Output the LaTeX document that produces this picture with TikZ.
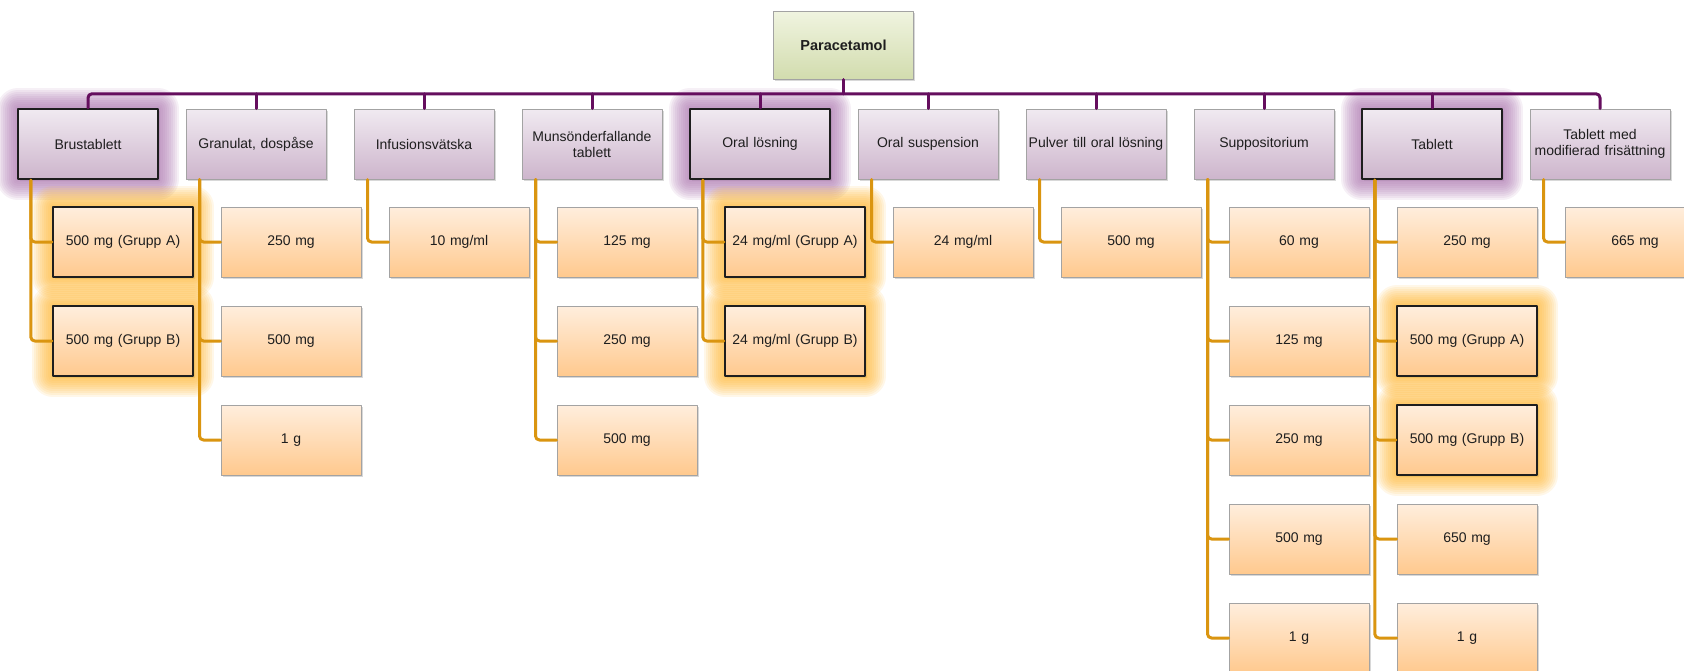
\documentclass[tikz,border=0pt]{standalone}
\usepackage{fontspec}
\setmainfont{Liberation Sans}
\usetikzlibrary{shadows,positioning}
\definecolor{ptPurple}{HTML}{650E5E}
\definecolor{ptOrange}{HTML}{DA9510}
\definecolor{ptLilacTop}{HTML}{F0EAF1}
\definecolor{ptLilacBot}{HTML}{CDB5CC}
\definecolor{ptPeachTop}{HTML}{FFEEDD}
\definecolor{ptPeachBot}{HTML}{FFC98E}
\definecolor{ptLimeTop}{HTML}{F0F4E0}
\definecolor{ptLimeBot}{HTML}{D2DCAE}
\definecolor{ptEdge}{HTML}{A3A3A3}
\definecolor{ptInk}{HTML}{1E1E1E}
\definecolor{ptGlowPurple}{HTML}{AE78B1}
\definecolor{ptGlowOrange}{HTML}{FFB830}

\begin{document}
\begin{tikzpicture}[x=1pt,y=-1pt,line cap=round,line join=round]
\path[fill=white,use as bounding box] (0,0) rectangle (1684,670);
\tikzset{card/.style={draw=ptEdge,line width=1pt,minimum height=70pt,text width=136pt,inner sep=2pt,align=center,text=ptInk,font=\fontsize{14}{16}\selectfont,drop shadow={shadow xshift=1.5pt,shadow yshift=-2pt,opacity=0.3}},
  rootbox/.style={card,top color=ptLimeTop,bottom color=ptLimeBot,minimum height=68pt,font=\fontsize{14.5}{17}\selectfont\bfseries},
  formbox/.style={card,top color=ptLilacTop,bottom color=ptLilacBot},
  kid/.style={card,top color=ptPeachTop,bottom color=ptPeachBot},
  halo/.style 2 args={preaction={draw=#1,line width=#2,opacity=0.11}},
  glow/.style={halo={#1}{42pt},halo={#1}{38pt},halo={#1}{34pt},halo={#1}{30pt},halo={#1}{26pt},
    halo={#1}{22pt},halo={#1}{18pt},halo={#1}{14pt},halo={#1}{10pt},halo={#1}{6pt},draw=ptInk,line width=2.4pt},
  glowP/.style={glow=ptGlowPurple},
  glowO/.style={glow=ptGlowOrange},
  hubline/.style={draw=ptPurple,line width=3pt,rounded corners=4pt},
  kidline/.style={draw=ptOrange,line width=3pt,rounded corners=4pt}}
% root
\node[rootbox] (root) at (843.5,45) {Paracetamol};
% dosage forms
\node[formbox,glowP] (brus) at (88,144) {Brustablett};
\node[formbox] (gran) at (256,144) {Granulat, dospåse};
\node[formbox] (infu) at (424,144) {Infusionsvätska};
\node[formbox] (muns) at (592,144) {Munsönderfallande\\tablett};
\node[formbox,glowP] (oral) at (760,144) {Oral lösning};
\node[formbox] (susp) at (928,144) {Oral suspension};
\node[formbox] (pulv) at (1096,144) {Pulver till oral lösning};
\node[formbox] (supp) at (1264,144) {Suppositorium};
\node[formbox,glowP] (tabl) at (1432,144) {Tablett};
\node[formbox] (tabm) at (1600,144) {Tablett med\\modifierad frisättning};
% strengths
\node[kid,glowO] (brusA) at (123,242) {500 mg (Grupp A)};
\node[kid,glowO] (brusB) at (123,341) {500 mg (Grupp B)};
\node[kid] (gran1) at (291,242) {250 mg};
\node[kid] (gran2) at (291,341) {500 mg};
\node[kid] (gran3) at (291,440) {1 g};
\node[kid] (infu1) at (459,242) {10 mg/ml};
\node[kid] (muns1) at (627,242) {125 mg};
\node[kid] (muns2) at (627,341) {250 mg};
\node[kid] (muns3) at (627,440) {500 mg};
\node[kid,glowO] (oralA) at (795,242) {24 mg/ml (Grupp A)};
\node[kid,glowO] (oralB) at (795,341) {24 mg/ml (Grupp B)};
\node[kid] (susp1) at (963,242) {24 mg/ml};
\node[kid] (pulv1) at (1131,242) {500 mg};
\node[kid] (supp1) at (1299,242) {60 mg};
\node[kid] (supp2) at (1299,341) {125 mg};
\node[kid] (supp3) at (1299,440) {250 mg};
\node[kid] (supp4) at (1299,539) {500 mg};
\node[kid] (supp5) at (1299,638) {1 g};
\node[kid] (tabl1) at (1467,242) {250 mg};
\node[kid,glowO] (tablA) at (1467,341) {500 mg (Grupp A)};
\node[kid,glowO] (tablB) at (1467,440) {500 mg (Grupp B)};
\node[kid] (tabl4) at (1467,539) {650 mg};
\node[kid] (tabl5) at (1467,638) {1 g};
\node[kid] (tabm1) at (1635,242) {665 mg};
% purple hub
\coordinate (bar) at ([yshift=14pt]brus.north);
\draw[hubline] (brus.north) -- (bar) -| (tabm.north);
\draw[hubline] (root.south) -- (root.south |- bar);
\draw[hubline] (gran.north) -- (gran.north |- bar); \draw[hubline] (infu.north) -- (infu.north |- bar);
\draw[hubline] (muns.north) -- (muns.north |- bar); \draw[hubline] (oral.north) -- (oral.north |- bar);
\draw[hubline] (susp.north) -- (susp.north |- bar); \draw[hubline] (pulv.north) -- (pulv.north |- bar);
\draw[hubline] (supp.north) -- (supp.north |- bar); \draw[hubline] (tabl.north) -- (tabl.north |- bar);
% orange branches
\draw[kidline] ([xshift=14pt]brus.south west) |- (brusA.west); \draw[kidline] ([xshift=14pt]brus.south west) |- (brusB.west);
\draw[kidline] ([xshift=14pt]gran.south west) |- (gran1.west); \draw[kidline] ([xshift=14pt]gran.south west) |- (gran2.west); \draw[kidline] ([xshift=14pt]gran.south west) |- (gran3.west);
\draw[kidline] ([xshift=14pt]infu.south west) |- (infu1.west);
\draw[kidline] ([xshift=14pt]muns.south west) |- (muns1.west); \draw[kidline] ([xshift=14pt]muns.south west) |- (muns2.west); \draw[kidline] ([xshift=14pt]muns.south west) |- (muns3.west);
\draw[kidline] ([xshift=14pt]oral.south west) |- (oralA.west); \draw[kidline] ([xshift=14pt]oral.south west) |- (oralB.west);
\draw[kidline] ([xshift=14pt]susp.south west) |- (susp1.west);
\draw[kidline] ([xshift=14pt]pulv.south west) |- (pulv1.west);
\draw[kidline] ([xshift=14pt]supp.south west) |- (supp1.west); \draw[kidline] ([xshift=14pt]supp.south west) |- (supp2.west); \draw[kidline] ([xshift=14pt]supp.south west) |- (supp3.west);
\draw[kidline] ([xshift=14pt]supp.south west) |- (supp4.west); \draw[kidline] ([xshift=14pt]supp.south west) |- (supp5.west);
\draw[kidline] ([xshift=14pt]tabl.south west) |- (tabl1.west); \draw[kidline] ([xshift=14pt]tabl.south west) |- (tablA.west); \draw[kidline] ([xshift=14pt]tabl.south west) |- (tablB.west);
\draw[kidline] ([xshift=14pt]tabl.south west) |- (tabl4.west); \draw[kidline] ([xshift=14pt]tabl.south west) |- (tabl5.west);
\draw[kidline] ([xshift=14pt]tabm.south west) |- (tabm1.west);
\end{tikzpicture}
\end{document}
